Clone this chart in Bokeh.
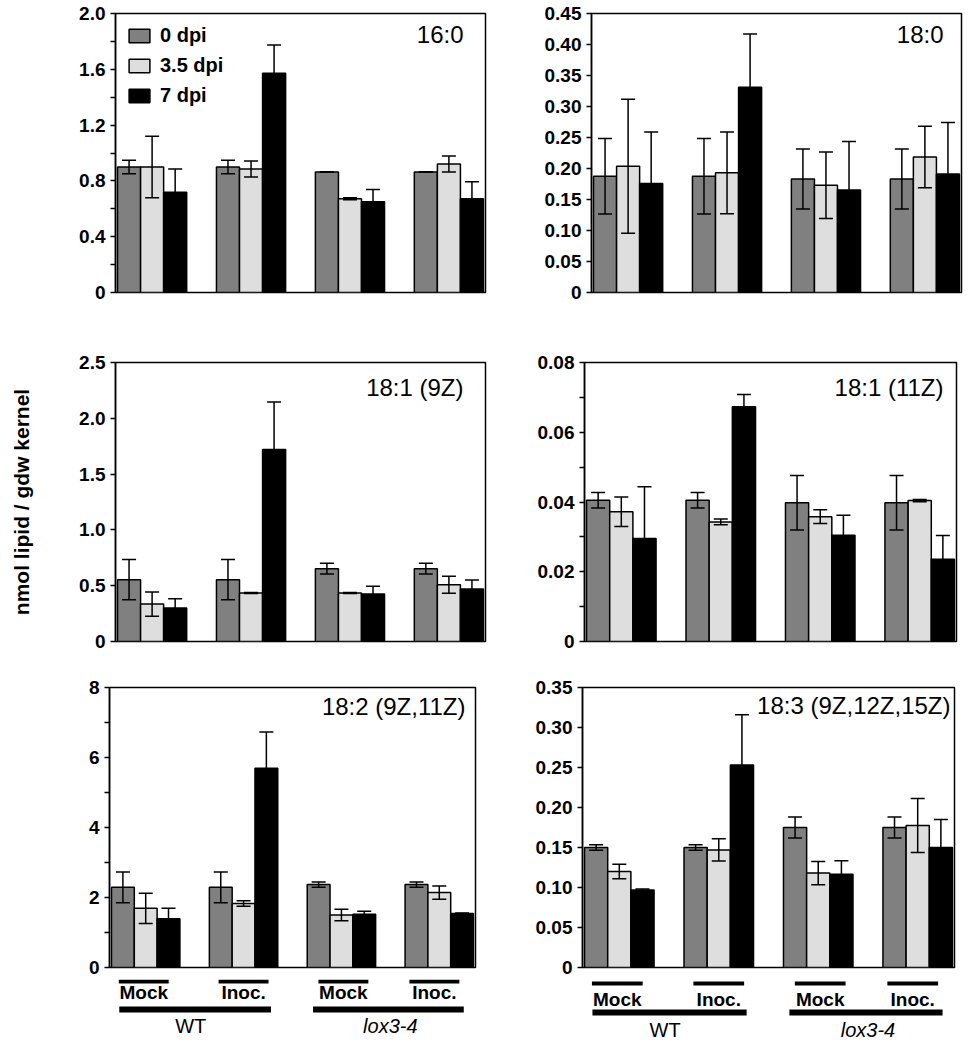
from bokeh.plotting import figure
from bokeh.models import (ColumnDataSource, Range1d, FixedTicker, Whisker, TeeHead,
                          Label)
from bokeh.layouts import column, row
from bokeh.embed import file_html
from bokeh.resources import INLINE
from bokeh.core.properties import value

# ---------------- data ----------------
GROUPS = ["WT Mock", "WT Inoc.", "lox3-4 Mock", "lox3-4 Inoc."]
SERIES = ["0 dpi", "3.5 dpi", "7 dpi"]
SUB_LABELS = ["Mock", "Inoc.", "Mock", "Inoc."]
GENO_LABELS = ["WT", "lox3-4"]
Y_LABEL = "nmol lipid / gdw kernel"

# rows = 0 dpi, 3.5 dpi, 7 dpi ; columns = GROUPS
C16_0_MEAN = [[0.90, 0.90, 0.864, 0.864],
              [0.90, 0.885, 0.672, 0.921],
              [0.718, 1.572, 0.651, 0.672]]
C16_0_ERR = [[0.048, 0.048, 0.0, 0.0],
             [0.22, 0.057, 0.007, 0.057],
             [0.167, 0.203, 0.088, 0.122]]

C18_0_MEAN = [[0.1875, 0.1875, 0.183, 0.183],
              [0.2036, 0.193, 0.173, 0.2186],
              [0.176, 0.331, 0.1655, 0.191]]
C18_0_ERR = [[0.061, 0.061, 0.0485, 0.0485],
             [0.108, 0.066, 0.0535, 0.0495],
             [0.083, 0.086, 0.078, 0.083]]

C18_1_9_MEAN = [[0.554, 0.554, 0.653, 0.653],
                [0.335, 0.434, 0.434, 0.509],
                [0.30, 1.72, 0.425, 0.47]]
C18_1_9_ERR = [[0.18, 0.18, 0.048, 0.048],
               [0.108, 0.005, 0.005, 0.076],
               [0.083, 0.425, 0.069, 0.081]]

C18_1_11_MEAN = [[0.0405, 0.0405, 0.0398, 0.0398],
                 [0.0372, 0.0343, 0.0358, 0.0404],
                 [0.0295, 0.0673, 0.0305, 0.0236]]
C18_1_11_ERR = [[0.0022, 0.0022, 0.0078, 0.0078],
                [0.0042, 0.0008, 0.002, 0.0003],
                [0.0149, 0.0035, 0.0057, 0.0068]]

C18_2_MEAN = [[2.29, 2.29, 2.37, 2.37],
              [1.69, 1.83, 1.50, 2.14],
              [1.39, 5.69, 1.52, 1.54]]
C18_2_ERR = [[0.44, 0.44, 0.076, 0.076],
             [0.43, 0.08, 0.167, 0.19],
             [0.30, 1.04, 0.086, 0.02]]

C18_3_MEAN = [[0.150, 0.150, 0.175, 0.175],
              [0.120, 0.147, 0.118, 0.1775],
              [0.097, 0.253, 0.1167, 0.150]]
C18_3_ERR = [[0.0033, 0.0033, 0.013, 0.013],
             [0.009, 0.014, 0.0146, 0.0338],
             [0.001, 0.063, 0.0167, 0.035]]

T16_0 = [0, 0.4, 0.8, 1.2, 1.6, 2.0]
T16_0_LABELS = ["0", "0.4", "0.8", "1.2", "1.6", "2.0"]
T16_0_MINOR = [0.2, 0.6, 1.0, 1.4, 1.8]

T18_0 = [0, 0.05, 0.10, 0.15, 0.20, 0.25, 0.30, 0.35, 0.40, 0.45]
T18_0_LABELS = ["0", "0.05", "0.10", "0.15", "0.20", "0.25", "0.30", "0.35", "0.40", "0.45"]

T18_1_9 = [0, 0.5, 1.0, 1.5, 2.0, 2.5]
T18_1_9_LABELS = ["0", "0.5", "1.0", "1.5", "2.0", "2.5"]

T18_1_11 = [0, 0.02, 0.04, 0.06, 0.08]
T18_1_11_LABELS = ["0", "0.02", "0.04", "0.06", "0.08"]
T18_1_11_MINOR = [0.01, 0.03, 0.05, 0.07]

T18_2 = [0, 2, 4, 6, 8]
T18_2_LABELS = ["0", "2", "4", "6", "8"]
T18_2_MINOR = [1, 3, 5, 7]

T18_3 = [0, 0.05, 0.10, 0.15, 0.20, 0.25, 0.30, 0.35]
T18_3_LABELS = ["0", "0.05", "0.10", "0.15", "0.20", "0.25", "0.30", "0.35"]

# ---------------- style ----------------
COLORS = ["#808080", "#dedede", "#000000"]
BAR_W = 0.233
OFFSETS = [-BAR_W, 0.0, BAR_W]
XR = (-0.37, 3.37)
FONT = "Liberation Sans"


def make_panel(title, means, errs, ymax, ticks, labels, minor, fw, fh,
               bl, br, bt, bb, tdx, tdy, legend=False, ylabel=None):
    p = figure(frame_width=fw, frame_height=fh,
               x_range=Range1d(*XR), y_range=Range1d(0, ymax),
               min_border_left=bl, min_border_right=br,
               min_border_top=bt, min_border_bottom=bb,
               toolbar_location=None, tools="", output_backend="svg")
    p.xaxis.visible = False
    p.grid.visible = False
    p.outline_line_color = "black"
    p.outline_line_width = 1.5
    p.outline_line_alpha = 1.0
    p.background_fill_color = "white"
    p.border_fill_color = "white"

    ax = p.yaxis[0]
    ax.ticker = FixedTicker(ticks=ticks, minor_ticks=minor)
    ax.major_label_overrides = {float(t): l for t, l in zip(ticks, labels)}
    ax.axis_line_color = "black"
    ax.axis_line_width = 1.5
    ax.major_tick_line_width = 1.5
    ax.minor_tick_line_width = 1.5
    ax.major_tick_out = 5
    ax.major_tick_in = 0
    ax.minor_tick_out = 5
    ax.minor_tick_in = 0
    ax.major_label_standoff = 5
    ax.major_label_text_font = FONT
    ax.major_label_text_font_style = "bold"
    ax.major_label_text_font_size = "19px"
    ax.major_label_text_color = "black"
    if ylabel:
        ax.axis_label = ylabel
        ax.axis_label_text_font = FONT
        ax.axis_label_text_font_style = "bold"
        ax.axis_label_text_font_size = "21px"
        ax.axis_label_text_color = "black"
        ax.axis_label_standoff = 43

    whiskers = []
    for i in range(3):
        xs = [g + OFFSETS[i] for g in range(len(GROUPS))]
        up = [m + e for m, e in zip(means[i], errs[i])]
        lo = [m - e for m, e in zip(means[i], errs[i])]
        src = ColumnDataSource(dict(x=xs, top=means[i], upper=up, lower=lo))
        kw = dict(legend_label=SERIES[i]) if legend else {}
        p.vbar(x="x", top="top", width=BAR_W, source=src,
               fill_color=COLORS[i], line_color="black", line_width=1.5, **kw)
        w = Whisker(source=src, base="x", upper="upper", lower="lower",
                    dimension="height", line_color="black", line_width=1.5,
                    upper_head=TeeHead(size=14, line_color="black", line_width=1.5),
                    lower_head=TeeHead(size=14, line_color="black", line_width=1.5),
                    level="annotation")
        whiskers.append(w)
    for w in whiskers:
        p.add_layout(w)

    p.add_layout(Label(x=XR[1], y=ymax, x_offset=-tdx, y_offset=-tdy, text=title,
                       text_align="right", text_baseline="top", text_font=FONT,
                       text_font_size="24px", text_color="black"))

    if legend:
        lg = p.legend[0]
        lg.location = "top_left"
        lg.margin = 8
        lg.padding = 3
        lg.spacing = 7
        lg.glyph_width = 26
        lg.glyph_height = 17
        lg.label_height = 17
        lg.label_standoff = 8
        lg.label_text_font = FONT
        lg.label_text_font_style = "bold"
        lg.label_text_font_size = "20px"
        lg.label_text_color = "black"
        lg.label_text_baseline = "middle"
        lg.background_fill_alpha = 0
        lg.border_line_alpha = 0
    return p


SUB_X = [-0.02, 1.0, 2.02, 2.95]
SUB_HALF = 0.255
GENO_SPANS = [(-0.27, 1.28), (1.71, 3.25)]
GENO_X = [0.46, 2.5]


def make_annot(fw, bl, br, y_line, y_text, y_bar, y_gtext, h=61):
    a = figure(frame_width=fw, frame_height=h,
               x_range=Range1d(*XR), y_range=Range1d(h, 0),
               x_axis_type=None, y_axis_type=None,
               min_border_left=bl, min_border_right=br,
               min_border_top=0, min_border_bottom=0,
               toolbar_location=None, tools="", output_backend="svg")
    a.outline_line_color = None
    a.grid.visible = False
    a.segment(x0=[c - SUB_HALF for c in SUB_X], x1=[c + SUB_HALF for c in SUB_X],
              y0=[y_line] * 4, y1=[y_line] * 4, line_color="black",
              line_width=4, line_cap="butt")
    a.segment(x0=[s[0] for s in GENO_SPANS], x1=[s[1] for s in GENO_SPANS],
              y0=[y_bar] * 2, y1=[y_bar] * 2, line_color="black",
              line_width=6, line_cap="butt")
    a.text(x=SUB_X, y=[y_text] * 4, text=SUB_LABELS, text_align="center",
           text_baseline="top", text_font=value(FONT), text_font_style="bold",
           text_font_size="19px", text_color="black")
    a.text(x=GENO_X[:1], y=[y_gtext], text=GENO_LABELS[:1], text_align="center",
           text_baseline="top", text_font=value(FONT),
           text_font_size="20px", text_color="black")
    a.text(x=GENO_X[1:], y=[y_gtext], text=GENO_LABELS[1:], text_align="center",
           text_baseline="top", text_font=value(FONT), text_font_style="italic",
           text_font_size="20px", text_color="black")
    return a


p1 = make_panel("16:0", C16_0_MEAN, C16_0_ERR, 2.0, T16_0, T16_0_LABELS, T16_0_MINOR,
                370, 279, 115, 10, 13, 38, 22, 7, legend=True)
p2 = make_panel("18:0", C18_0_MEAN, C18_0_ERR, 0.45, T18_0, T18_0_LABELS, [],
                370, 279, 96, 5, 13, 38, 18, 7)
p3 = make_panel("18:1 (9Z)", C18_1_9_MEAN, C18_1_9_ERR, 2.5, T18_1_9, T18_1_9_LABELS, [],
                370, 279, 115, 10, 32, 29, 22, 11, ylabel=Y_LABEL)
p4 = make_panel("18:1 (11Z)", C18_1_11_MEAN, C18_1_11_ERR, 0.08, T18_1_11, T18_1_11_LABELS,
                T18_1_11_MINOR, 372, 279, 89, 5, 28, 33, 13, 11)
p5 = make_panel("18:2 (9Z,11Z)", C18_2_MEAN, C18_2_ERR, 8, T18_2, T18_2_LABELS, T18_2_MINOR,
                366, 280, 109, 10, 17, 12, 10, 5)
p6 = make_panel("18:3 (9Z,12Z,15Z)", C18_3_MEAN, C18_3_ERR, 0.35, T18_3, T18_3_LABELS, [],
                372, 280, 97, 5, 16, 13, 4, 4)
a5 = make_annot(366, 109, 10, 2, 2, 30, 35)
a6 = make_annot(372, 97, 5, 4, 9, 33, 39)

layout = column(row(p1, p2), row(p3, p4), row(p5, p6), row(a5, a6))

open("out.html", "w").write(file_html(layout, INLINE))
